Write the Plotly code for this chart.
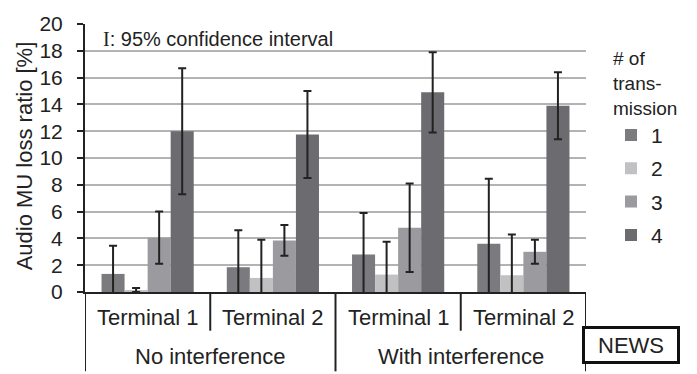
import plotly.graph_objects as go

# ---- data ----
conditions = ["No interference", "With interference"]
terminals = ["Terminal 1", "Terminal 2"]
series_names = ["1", "2", "3", "4"]
# values per series, in order: NI-T1, NI-T2, WI-T1, WI-T2
loss_1 = [1.35, 1.85, 2.8, 3.6]
loss_2 = [0.15, 1.05, 1.3, 1.25]
loss_3 = [4.05, 3.85, 4.8, 3.0]
loss_4 = [12.0, 11.75, 14.9, 13.9]
ci_1 = [2.1, 2.75, 3.1, 4.85]
ci_2 = [0.15, 2.85, 2.45, 3.05]
ci_3 = [1.95, 1.15, 3.3, 0.9]
ci_4 = [4.7, 3.25, 3.0, 2.5]
y_ticks = [0, 2, 4, 6, 8, 10, 12, 14, 16, 18, 20]

colors = ["#7b7b7f", "#c1c1c4", "#9b9b9f", "#6c6c70"]
FONT = "Liberation Sans, Arial, sans-serif"
TXT = "#222222"

cats = [f"{c} | {t}" for c in conditions for t in terminals]
values = [loss_1, loss_2, loss_3, loss_4]
errors = [ci_1, ci_2, ci_3, ci_4]

fig = go.Figure()
for i, name in enumerate(series_names):
    fig.add_trace(go.Bar(
        x=cats, y=values[i], name=name, legendgroup=name,
        marker=dict(color=colors[i], line=dict(width=0)),
        error_y=dict(type="data", array=errors[i], visible=True,
                     color="#222222", thickness=2, width=4),
    ))

# plot geometry helpers (paper coords)
PLOT_H = 277.0
def py(px_below):  # pixels below the x axis -> paper y
    return -px_below / PLOT_H

shapes = []
# outer vertical lines (full height of table)
for xv in [-0.5, 1.5, 3.5]:
    shapes.append(dict(type="line", xref="x", yref="paper", x0=xv, x1=xv,
                       y0=0, y1=py(82), line=dict(color="#222", width=2)))
# inner dividers between terminals
for xv in [0.5, 2.5]:
    shapes.append(dict(type="line", xref="x", yref="paper", x0=xv, x1=xv,
                       y0=0, y1=py(40), line=dict(color="#222", width=2)))

annotations = []
for i, c in enumerate(cats):
    annotations.append(dict(x=i, y=py(26), xref="x", yref="paper",
                            text=terminals[i % 2], showarrow=False,
                            font=dict(family=FONT, size=22, color=TXT),
                            xanchor="center", yanchor="middle"))
for j, c in enumerate(conditions):
    annotations.append(dict(x=2 * j + 0.5, y=py(67), xref="x", yref="paper",
                            text=c, showarrow=False,
                            font=dict(family=FONT, size=22, color=TXT),
                            xanchor="center", yanchor="middle"))
# y title
annotations.append(dict(x=(24 - 85) / 501.0, y=(291.7 - 151.5) / PLOT_H,
                        xref="paper", yref="paper",
                        text="Audio MU loss ratio [%]", textangle=-90,
                        showarrow=False,
                        font=dict(family=FONT, size=22, color=TXT),
                        xanchor="center", yanchor="middle"))
# CI note
annotations.append(dict(x=(101 - 85) / 501.0, y=(291.7 - 30.5) / PLOT_H,
                        xref="paper", yref="paper",
                        text="<span style=\"font-family:'Liberation Serif', 'Times New Roman', serif\">I</span>: 95% confidence interval",
                        showarrow=False,
                        font=dict(family=FONT, size=20, color=TXT),
                        xanchor="left", yanchor="middle"))
# NEWS box
annotations.append(dict(x=(631 - 85) / 501.0, y=py(346.5 - 291.7),
                        xref="paper", yref="paper", text="NEWS",
                        showarrow=False, width=90, height=30,
                        bgcolor="white", bordercolor="#111", borderwidth=3,
                        borderpad=1,
                        font=dict(family=FONT, size=22, color=TXT),
                        xanchor="center", yanchor="middle"))

fig.update_layout(
    width=697, height=374,
    margin=dict(l=85, r=111, t=15, b=82),
    paper_bgcolor="white", plot_bgcolor="white",
    barmode="group", bargap=0.264, bargroupgap=0,
    font=dict(family=FONT, color=TXT),
    showlegend=True,
    legend=dict(
        title=dict(text="# of<br>trans-<br>mission",
                   font=dict(family=FONT, size=19, color=TXT)),
        font=dict(family=FONT, size=21, color=TXT),
        x=(611 - 85) / 501.0, xanchor="left",
        y=(291.7 - 32) / PLOT_H, yanchor="top",
        bgcolor="rgba(0,0,0,0)", tracegroupgap=3,
        itemclick=False,
    ),
    xaxis=dict(type="category", showticklabels=False, ticks="",
               showline=True, linecolor="#222", linewidth=2,
               showgrid=False, zeroline=False, range=[-0.5, 3.5],
               fixedrange=True),
    yaxis=dict(range=[0, 20], tickvals=y_ticks,
               ticktext=[str(v) for v in y_ticks],
               ticks="outside", ticklen=6, tickwidth=2, tickcolor="#222",
               ticklabelstandoff=10,
               tickfont=dict(family=FONT, size=21, color=TXT),
               showline=True, linecolor="#222", linewidth=2,
               showgrid=True, gridcolor="#b3b3b3", gridwidth=1.7,
               zeroline=False, fixedrange=True),
    shapes=shapes, annotations=annotations,
)

fig.write_html("out.html")
